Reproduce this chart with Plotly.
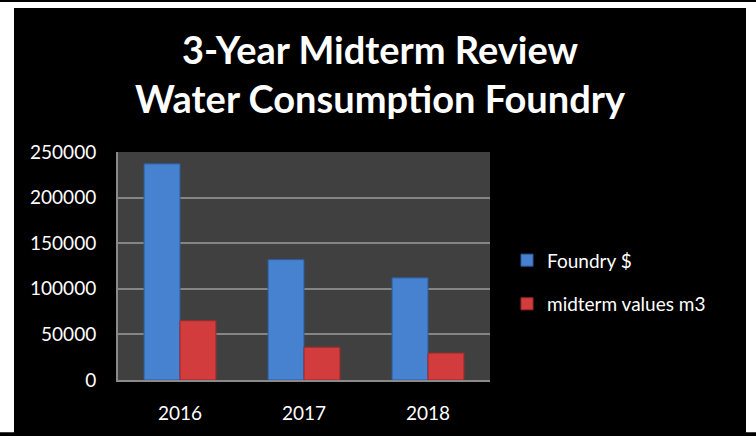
import plotly.graph_objects as go

# ---- data ----
years = ["2016", "2017", "2018"]
foundry_usd = [237000, 132000, 112000]
midterm_m3 = [65000, 36000, 29500]
series_names = ["Foundry $", "midterm values m3"]
y_ticks = [0, 50000, 100000, 150000, 200000, 250000]
title_lines = ["3-Year Midterm Review", "Water Consumption Foundry"]

# ---- layout geometry (pixels) ----
W, H = 756, 436
L, R, T, B = 118, 266, 152, 53
PW, PH = W - L - R, H - T - B

def px_x(px):
    return (px - L) / PW

def px_y(py):
    return (H - B - py) / PH

FONT = "Lato, 'Open Sans', sans-serif"

fig = go.Figure()
fig.add_trace(go.Bar(
    x=years, y=foundry_usd, name=series_names[0], legendgroup="a",
    marker=dict(color="#4682d0", line=dict(color="#2c5d9c", width=1)),
))
fig.add_trace(go.Bar(
    x=years, y=midterm_m3, name=series_names[1], legendgroup="b",
    marker=dict(color="#d23c3c", line=dict(color="#9c2a2a", width=1)),
))

# white border strips around the black chart area
strips = [
    (0, 0, 14, H),      # left
    (746, 0, W, H),     # right
    (0, 0, W, 6),       # top
]
for x0, y0, x1, y1 in strips:
    fig.add_shape(type="rect", xref="paper", yref="paper",
                  x0=px_x(x0), x1=px_x(x1), y0=px_y(y0), y1=px_y(y1),
                  fillcolor="white", line=dict(width=0), layer="above")

fig.update_layout(
    width=W, height=H,
    margin=dict(l=L, r=R, t=T, b=B, pad=0),
    paper_bgcolor="black",
    plot_bgcolor="#404040",
    font=dict(family=FONT, color="white", size=19),
    title=dict(
        text="<b>" + title_lines[0] + "</b><br><b>" + title_lines[1] + "</b>",
        x=380 / W, xanchor="center", xref="container",
        y=1 - 64 / H, yanchor="middle", yref="container",
        font=dict(family=FONT, size=38, color="white"),
    ),
    barmode="group",
    bargap=0.42,
    bargroupgap=0,
    showlegend=True,
    legend=dict(
        x=px_x(507), xanchor="left",
        y=px_y(284), yanchor="middle",
        bgcolor="rgba(0,0,0,0)",
        font=dict(family=FONT, size=19, color="white"),
        traceorder="grouped",
        tracegroupgap=16,
        itemwidth=30,
    ),
    xaxis=dict(
        showgrid=False,
        showline=True, linecolor="#8a8a8a", linewidth=2,
        ticks="", ticklabelstandoff=15,
        tickfont=dict(family=FONT, size=19, color="white"),
        fixedrange=True,
    ),
    yaxis=dict(
        range=[0, 250000],
        tickvals=y_ticks,
        ticktext=[str(v) for v in y_ticks],
        showgrid=True, gridcolor="#858585", gridwidth=2,
        showline=True, linecolor="#8a8a8a", linewidth=2,
        zeroline=False,
        ticks="", ticklabelstandoff=16,
        tickfont=dict(family=FONT, size=19, color="white"),
        fixedrange=True,
    ),
)

fig.write_html(
    "out.html",
    config={"displayModeBar": False},
    post_script=(
        "document.body.style.margin='0';"
        "document.body.style.overflow='hidden';"
        "document.documentElement.style.overflow='hidden';"
    ),
)
